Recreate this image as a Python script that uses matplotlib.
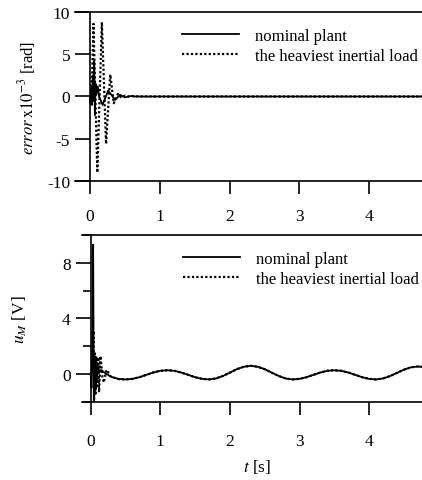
import matplotlib
matplotlib.use('Agg')
import matplotlib.pyplot as plt
from matplotlib.ticker import MultipleLocator

plt.rcParams['font.family'] = ['Liberation Serif', 'DejaVu Serif']
plt.rcParams['mathtext.fontset'] = 'stix'
plt.rcParams['axes.unicode_minus'] = False
plt.rcParams['font.size'] = 12.5

# Tracking error (x1e-3 rad), nominal plant
err_nom_t = [0, 0.01, 0.02, 0.03, 0.04, 0.05, 0.06, 0.07, 0.08, 0.09, 0.11, 0.13,
             0.18, 0.26, 0.36, 0.43, 0.5, 0.58, 0.65, 4.8]
err_nom_v = [0, -0.9, 1.0, -1.0, 2.5, -0.5, 4.2, -2.2, 1.5, 0.2, 1.2, 0.0,
             -1.0, 0.7, -0.4, 0.2, -0.1, 0.05, 0, 0]

# Tracking error, heaviest inertial load
err_heavy_t = [0, 0.02, 0.05, 0.105, 0.17, 0.23, 0.29, 0.34, 0.4, 0.45, 0.5,
               0.55, 0.62, 0.7, 4.8]
err_heavy_v = [0, -1.0, 8.6, -9.0, 8.8, -5.6, 2.6, -0.8, 0.3, -0.15, 0.1,
               0, 0.05, 0, 0]

# Control voltage u_M: common oscillating tail from 0.5 s
tail_t = [0.5, 0.6, 0.7, 0.8, 0.9, 1.0, 1.1, 1.2, 1.3, 1.4, 1.5, 1.6, 1.7,
          1.8, 1.9, 2.0, 2.1, 2.2, 2.3, 2.4, 2.5, 2.6, 2.7, 2.8, 2.9, 3.0,
          3.1, 3.2, 3.3, 3.4, 3.5, 3.6, 3.7, 3.8, 3.9, 4.0, 4.1, 4.2, 4.3,
          4.4, 4.5, 4.6, 4.7, 4.8]
tail_v = [-0.38, -0.34, -0.22, -0.05, 0.12, 0.24, 0.28, 0.24, 0.12, -0.05,
          -0.22, -0.34, -0.38, -0.31, -0.13, 0.11, 0.36, 0.53, 0.6, 0.53,
          0.36, 0.11, -0.13, -0.31, -0.38, -0.34, -0.22, -0.05, 0.12, 0.24,
          0.28, 0.24, 0.12, -0.05, -0.22, -0.34, -0.38, -0.31, -0.14, 0.09,
          0.32, 0.49, 0.55, 0.5]

u_nom_t = [0, 0.01, 0.02, 0.03, 0.035, 0.045, 0.055, 0.065, 0.075, 0.085,
           0.1, 0.12, 0.15, 0.2, 0.3, 0.4] + tail_t
u_nom_v = [0, -1.0, 0.8, 4.0, 9.3, -2.0, 1.2, -1.2, 1.0, -0.5,
           0.6, 0.2, 0.3, 0.1, -0.2, -0.34] + tail_v

u_heavy_t = [0, 0.02, 0.04, 0.05, 0.06, 0.07, 0.08, 0.09, 0.11, 0.12, 0.14,
             0.17, 0.19, 0.22, 0.24, 0.27, 0.3, 0.4] + tail_t
u_heavy_v = [0, 0.5, 3.1, -1.8, 1.5, -1.5, 1.3, -1.0, 1.2, -1.3, 1.3,
             -0.3, -0.6, 0.2, 0.3, -0.1, -0.2, -0.36] + tail_v

labels = ['nominal plant', 'the heaviest inertial load']

fig = plt.figure(figsize=(4.22, 4.81), dpi=100)
ax1 = fig.add_axes([0.1777, 0.6216, 0.8223, 0.3514])
ax2 = fig.add_axes([0.1943, 0.1622, 0.8057, 0.3472])

dot = (0, (1, 1))

ax1.plot(err_nom_t, err_nom_v, color='black', lw=1.3, label=labels[0])
ax1.plot(err_heavy_t, err_heavy_v, color='black', lw=1.6, ls=dot, label=labels[1])
ax2.plot(u_nom_t, u_nom_v, color='black', lw=1.3, label=labels[0])
ax2.plot(u_heavy_t, u_heavy_v, color='black', lw=1.6, ls=dot, label=labels[1])

ax1.set_xlim(-0.215, 4.756)
ax1.set_ylim(-10, 10)
ax1.set_yticks([-10, -5, 0, 5, 10])
ax2.set_xlim(-0.125, 4.76)
ax2.set_ylim(-2, 10)
ax2.set_yticks([0, 4, 8])
ax2.yaxis.set_minor_locator(MultipleLocator(2))

for ax in (ax1, ax2):
    ax.set_xticks([0, 1, 2, 3, 4])
    ax.spines['right'].set_visible(False)
    ax.spines['left'].set_position(('data', 0))
    for s in ('left', 'top', 'bottom'):
        ax.spines[s].set_linewidth(1.2)
    ax.tick_params(axis='y', direction='out', length=10.8, width=1.2, pad=3.5)
    ax.tick_params(axis='y', which='minor', direction='out', length=5.8, width=1.2)
    ax.tick_params(axis='x', direction='out', length=9.4, width=1.2, pad=10)
    ax.legend(loc='upper left', frameon=False, handlelength=3.4,
              handletextpad=1.0, labelspacing=0.22, borderpad=0,
              borderaxespad=0, fontsize=12,
              bbox_to_anchor=(182 / 422, 1 - 29 / 481) if ax is ax1
              else (183 / 422, 1 - 252 / 481),
              bbox_transform=fig.transFigure)

ax2.tick_params(axis='x', pad=13)

fig.text(0.064, 0.796, r'$\mathit{error}\,\mathrm{x10}^{-3}$ [rad]',
         rotation=90, ha='center', va='center', fontsize=12)
fig.text(0.047, 0.3347, r'$u_M$ [V]', rotation=90, ha='center', va='center',
         fontsize=12.5)
fig.text(0.609, 0.029, r'$t$ [s]', ha='center', va='center', fontsize=12.5)

fig.savefig('out.png', dpi=100)
